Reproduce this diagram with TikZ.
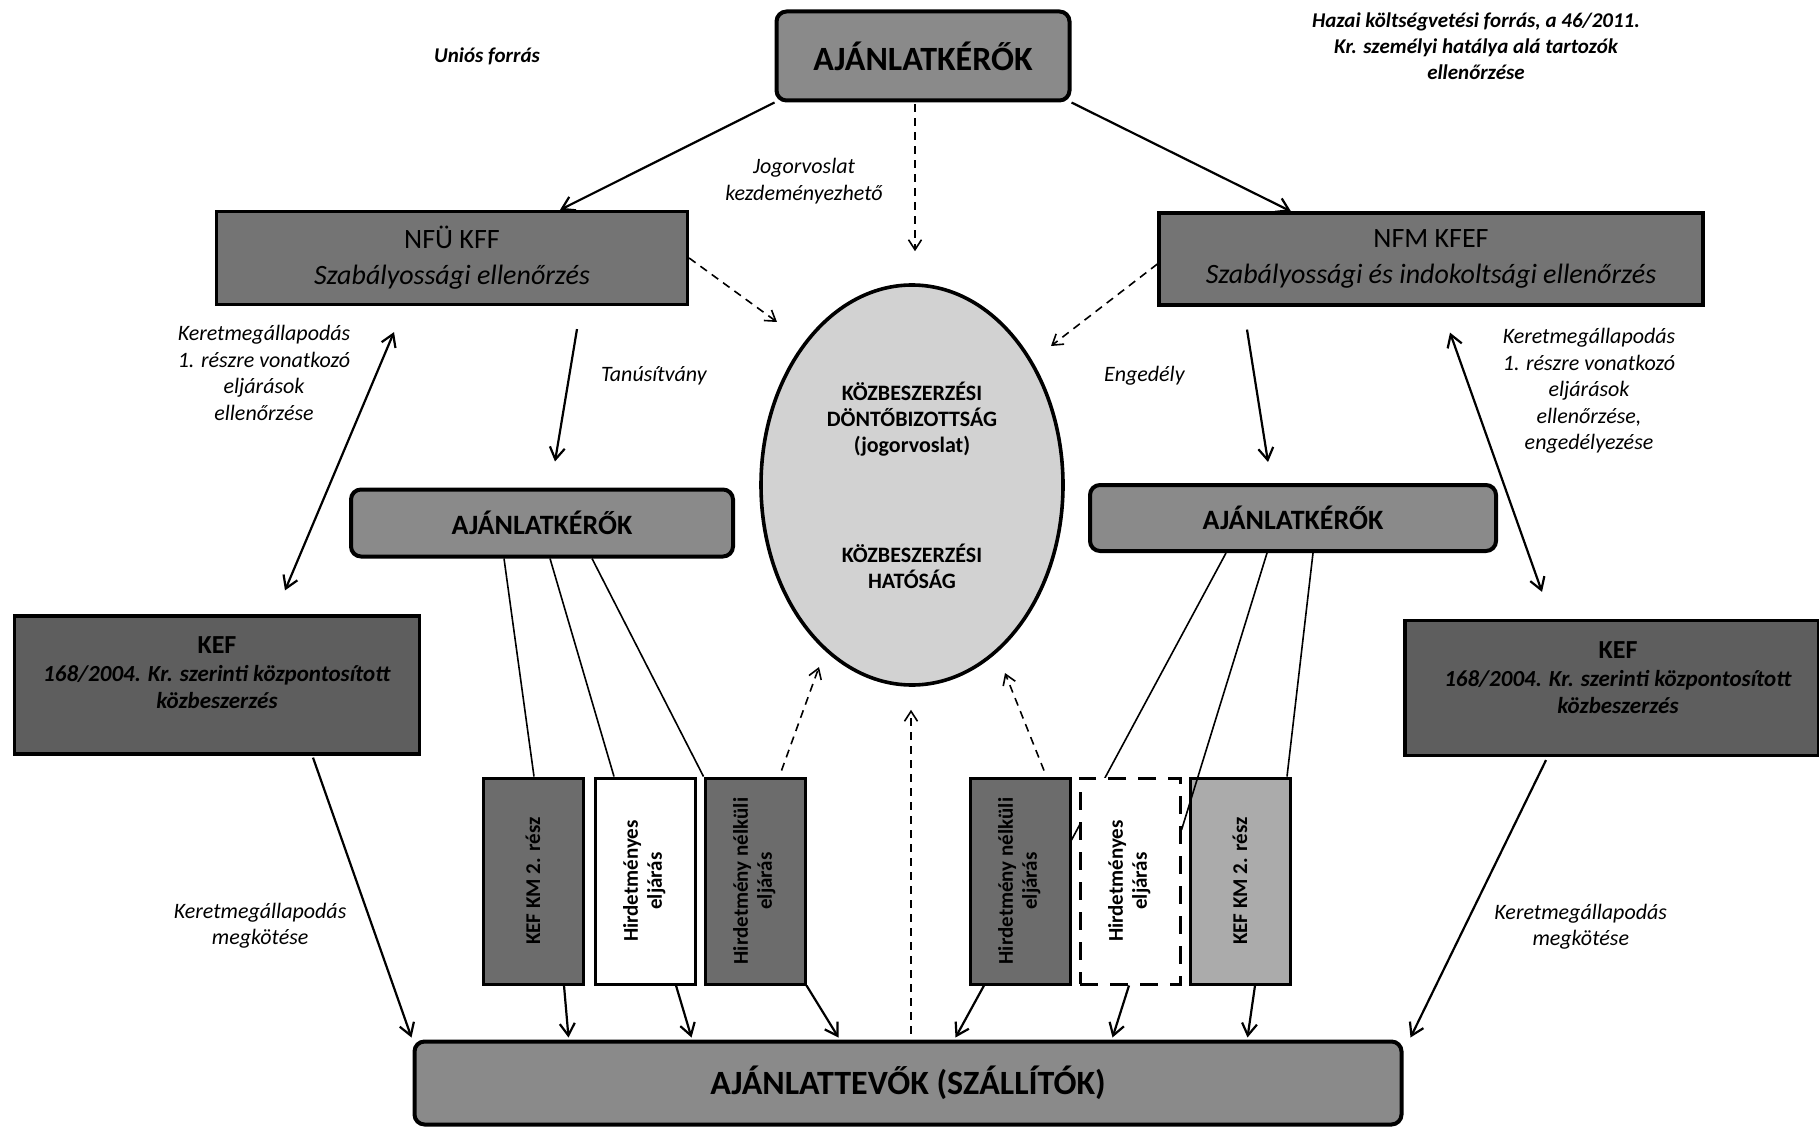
\documentclass[tikz,border=0pt]{standalone}
\usepackage{fontspec}
\setmainfont{Carlito}
\usetikzlibrary{calc}
\usetikzlibrary{arrows.meta,positioning,shapes.geometric}
\tikzstyle{ajbox} = [rectangle, rounded corners=5pt, draw=black, line width=2pt, fill=ajgray, inner sep=0pt, font=\bfseries]
\tikzstyle{kfbox} = [rectangle, draw=black, line width=1.6pt, fill=kfgray, inner sep=0pt, align=center]
\tikzstyle{procbox} = [rectangle, draw=black, line width=1.5pt, minimum width=50pt, minimum height=103pt, inner sep=0pt, align=center, font=\bfseries\fontsize{10.5}{12}\selectfont]
\tikzstyle{note} = [align=center, font=\itshape\fontsize{11}{13.3}\selectfont]
\tikzstyle{line} = [draw, line width=1.1pt, ->, >={Straight Barb[length=6pt,width=7.5pt]}]
\tikzstyle{dline} = [draw, line width=0.8pt, dash pattern=on 4pt off 3pt, ->, >={Straight Barb[length=5pt,width=6.5pt]}]
\definecolor{ajgray}{HTML}{8A8A8A}
\definecolor{kfgray}{HTML}{747474}
\definecolor{kefgray}{HTML}{5E5E5E}
\definecolor{ellgray}{HTML}{D2D2D2}
\definecolor{procgray}{HTML}{6C6C6C}
\definecolor{proclight}{HTML}{ABABAB}

\begin{document}
\begin{tikzpicture}[x=0.5pt,y=-0.5pt]
  \useasboundingbox (0,0) rectangle (1819,1128);
  % top level
  \node (top) [ajbox, minimum width=146.5pt, minimum height=44.5pt, font=\bfseries\fontsize{17}{20}\selectfont] at (923,56) {AJÁNLATKÉRŐK};
  \node (unio) [note, font=\bfseries\itshape\fontsize{10.5}{13}\selectfont] at (487,56) {Uniós forrás};
  \node (hazai) [note, font=\bfseries\itshape\fontsize{10.5}{13}\selectfont] at (1476,46) {Hazai költségvetési forrás, a 46/2011.\\Kr. személyi hatálya alá tartozók\\ellenőrzése};
  \node (nfu) [kfbox, minimum width=235.5pt, minimum height=46.5pt, font=\fontsize{14}{18}\selectfont] at (452,258) {NFÜ KFF\\\textit{Szabályossági ellenőrzés}};
  \node (nfm) [kfbox, minimum width=272pt, minimum height=46pt, font=\fontsize{14}{18}\selectfont] at (1431,259) {NFM KFEF\\\textit{Szabályossági és indokoltsági ellenőrzés}};
  \draw [line] (top.south west) -- ($(nfu.north)+(108,0)$);
  \draw [line] (top.south east) -- ($(nfm.north)+(-140,0)$);
  % jogorvoslat
  \node (ell) [ellipse, draw=black, line width=1.8pt, fill=ellgray, minimum width=151pt, minimum height=200pt, align=center, font=\bfseries\fontsize{11}{13}\selectfont] at (912,485) {KÖZBESZERZÉSI\\DÖNTŐBIZOTTSÁG\\(jogorvoslat)\\[42pt]KÖZBESZERZÉSI\\HATÓSÁG};
  \node (jog) [note] at (804,181) {Jogorvoslat\\kezdeményezhető};
  \draw [dline] ($(top.south)+(-8,2)$) -- ($(ell.north)+(3,-32)$);
  \draw [dline] (nfu.east) -- ($(ell.center)+(-135,-163)$);
  \draw [dline] ($(nfm.west)+(0,5)$) -- ($(ell.center)+(139,-139)$);
  % ajanlatkerok
  \node (lAJ) [ajbox, minimum width=191pt, minimum height=33.5pt, font=\bfseries\fontsize{14}{17}\selectfont] at (542,523) {AJÁNLATKÉRŐK};
  \node (rAJ) [ajbox, minimum width=203pt, minimum height=33pt, font=\bfseries\fontsize{14}{17}\selectfont] at (1293,518) {AJÁNLATKÉRŐK};
  \draw [line] ($(nfu.south)+(125,23)$) -- node [note, right=12pt, pos=0.35] (tanu) {Tanúsítvány} ($(lAJ.north)+(13,-26)$);
  \draw [line] ($(nfm.south)+(-184,23)$) -- node [note, left=31pt, pos=0.35] (enged) {Engedély} ($(rAJ.north)+(-25,-21)$);
  % KEF
  \node (lkef) [kfbox, fill=kefgray, minimum width=202.5pt, minimum height=69pt] at (217,685) {};
  \node (lkeftxt) [align=center, font=\bfseries\fontsize{11.5}{13.8}\selectfont] at ($(lkef.center)+(0,-12)$) {\fontsize{13}{13.8}\selectfont KEF\\\textit{168/2004. Kr. szerinti központosított}\\\textit{közbeszerzés}};
  \node (rkef) [kfbox, fill=kefgray, minimum width=207pt, minimum height=67.5pt] at (1612,688) {};
  \node (rkeftxt) [align=center, font=\bfseries\fontsize{11.5}{13.8}\selectfont] at ($(rkef.center)+(6,-10)$) {\fontsize{13}{13.8}\selectfont KEF\\\textit{168/2004. Kr. szerinti központosított}\\\textit{közbeszerzés}};
  \node (lker) [note] at (264,373) {Keretmegállapodás\\1. részre vonatkozó\\eljárások\\ellenőrzése};
  \node (rker) [note] at (1589,391) {Keretmegállapodás\\1. részre vonatkozó\\eljárások\\ellenőrzése,\\engedélyezése};
  \draw [line, <->] ($(nfu.south)+(-58,26)$) -- ($(lkef.north)+(68,-24)$);
  \draw [line, <->] ($(nfm.south)+(19,26)$) -- ($(rkef.north)+(-70,-27)$);
  % eljarasok
  \node (L1) [procbox, fill=procgray] at (533,881) {\rotatebox{90}{KEF KM 2. rész}};
  \node (L2) [procbox, fill=white] at (645,881) {\rotatebox{90}{\begin{tabular}{c}Hirdetményes\\eljárás\end{tabular}}};
  \node (L3) [procbox, fill=procgray] at (755,881) {\rotatebox{90}{\begin{tabular}{c}Hirdetmény nélküli\\eljárás\end{tabular}}};
  \node (R1) [procbox, fill=procgray] at (1020,881) {\rotatebox{90}{\begin{tabular}{c}Hirdetmény nélküli\\eljárás\end{tabular}}};
  \node (R3) [procbox, fill=proclight] at (1240,881) {\rotatebox{90}{KEF KM 2. rész}};
  \draw [thick] ($(lAJ.south)+(-38,0)$) -- ($(L1.north)+(1,0)$);
  \draw [thick] ($(lAJ.south)+(8,0)$) -- ($(L2.north)+(-31,0)$);
  \draw [thick] ($(lAJ.south)+(50,0)$) -- (L3.north west);
  \draw [thick] ($(rAJ.south)+(-67,0)$) -- ($(R1.east)+(0,-41)$);
  \node (R2) [procbox, fill=white, dash pattern=on 9pt off 6pt] at (1130,881) {\rotatebox{90}{\begin{tabular}{c}Hirdetményes\\eljárás\end{tabular}}};
  \draw [thick] ($(rAJ.south)+(-26,0)$) -- ($(R2.east)+(0,-51)$);
  \draw [thick] ($(rAJ.south)+(20,0)$) -- ($(R3.north)+(47,0)$);
  % ajanlattevok
  \node (bot) [ajbox, minimum width=493.5pt, minimum height=41.5pt, font=\bfseries\fontsize{17}{20}\selectfont] at (908,1083) {AJÁNLATTEVŐK (SZÁLLÍTÓK)};
  \draw [line] ($(lkef.south)+(96,2)$) -- node [note, left=9pt, pos=0.6] (lmeg) {Keretmegállapodás\\megkötése} ($(bot.north west)+(-1,-2)$);
  \draw [line] ($(L1.south)+(31,0)$) -- ($(bot.north west)+(156,-2)$);
  \draw [line] ($(L2.south)+(31,0)$) -- ($(bot.north west)+(279,-2)$);
  \draw [line] (L3.south east) -- ($(bot.north west)+(426,-2)$);
  \draw [line] ($(R1.south)+(-36,0)$) -- ($(bot.north west)+(543,-2)$);
  \draw [line] ($(R2.south)+(-1,0)$) -- ($(bot.north west)+(700,-2)$);
  \draw [line] ($(R3.south)+(15,0)$) -- ($(bot.north west)+(835,-2)$);
  \draw [line] ($(rkef.south)+(-66,3)$) -- node [note, right=11pt, pos=0.6] (rmeg) {Keretmegállapodás\\megkötése} ($(bot.north east)+(7,-2)$);
  \draw [dline] ($(L3.north east)+(-25,-6)$) -- ($(ell.center)+(-93,182)$);
  \draw [dline] ($(bot.north)+(3,-6)$) -- ($(ell.south)+(-1,23)$);
  \draw [dline] ($(R1.north)+(24,-6)$) -- ($(ell.center)+(93,188)$);
\end{tikzpicture}
\end{document}
